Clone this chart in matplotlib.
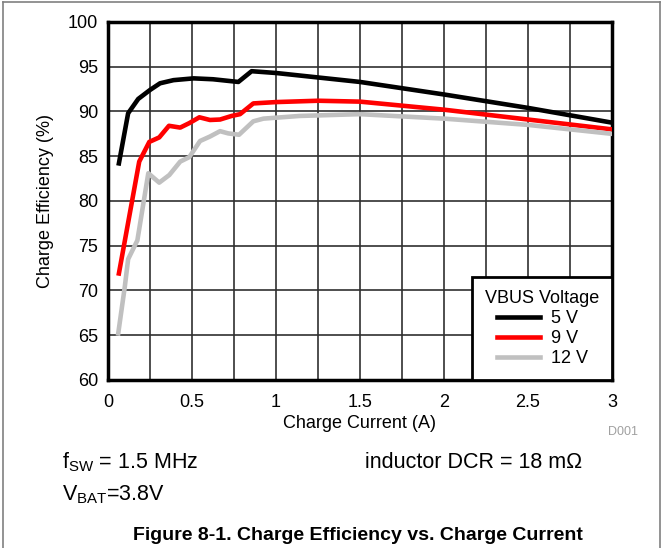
"""Charge efficiency vs. charge current for three VBUS voltages."""

import matplotlib
matplotlib.use("Agg")
import matplotlib.pyplot as plt
from matplotlib.lines import Line2D

plt.rcParams["font.family"] = ["Liberation Sans", "DejaVu Sans"]
plt.rcParams["mathtext.fontset"] = "custom"
plt.rcParams["mathtext.rm"] = "Liberation Sans"

# Corriente de carga (A) y eficiencia (%) por tensión VBUS
current_5v = [0.065, 0.12, 0.18, 0.25, 0.31, 0.39, 0.51, 0.625, 0.776, 0.855,
              1.0, 1.5, 2.0, 2.5, 3.0]
eff_5v = [84.2, 89.8, 91.4, 92.4, 93.15, 93.5, 93.7, 93.6, 93.3, 94.5,
          94.3, 93.3, 91.9, 90.4, 88.75]

current_9v = [0.065, 0.186, 0.246, 0.305, 0.363, 0.43, 0.484, 0.544, 0.607,
              0.667, 0.736, 0.786, 0.865, 1.0, 1.25, 1.5, 2.0, 2.5, 3.0]
eff_9v = [71.9, 84.4, 86.6, 87.1, 88.4, 88.2, 88.7, 89.35, 89.05,
          89.1, 89.5, 89.7, 90.9, 91.05, 91.2, 91.1, 90.2, 89.1, 88.0]

current_12v = [0.061, 0.10, 0.12, 0.175, 0.24, 0.305, 0.365, 0.43, 0.484,
               0.548, 0.607, 0.667, 0.716, 0.78, 0.865, 0.925, 1.14, 1.5,
               2.0, 2.5, 3.0]
eff_12v = [65.2, 70.4, 73.5, 75.6, 83.1, 82.05, 82.9, 84.4, 84.9,
           86.7, 87.2, 87.8, 87.55, 87.4, 88.9, 89.2, 89.5, 89.7,
           89.2, 88.5, 87.5]

series = [("5 V", current_5v, eff_5v, "black"),
          ("9 V", current_9v, eff_9v, "#ff0000"),
          ("12 V", current_12v, eff_12v, "#c0c0c0")]

x_ticks = [0, 0.5, 1, 1.5, 2, 2.5, 3]
x_tick_labels = ["0", "0.5", "1", "1.5", "2", "2.5", "3"]
y_ticks = [60, 65, 70, 75, 80, 85, 90, 95, 100]

fig = plt.figure(figsize=(6.62, 5.48), dpi=100)
ax = fig.add_axes([0.1631, 0.3066, 0.7614, 0.6533])

# rejilla: verticales cada 0.25 A, horizontales cada 5 %
for xv in [i * 0.25 for i in range(1, 12)]:
    ax.axvline(xv, color="#303030", lw=1.2, zorder=1)
for yv in y_ticks[1:-1]:
    ax.axhline(yv, color="#303030", lw=1.2, zorder=1)

handles = []
for label, xs, ys, color in series:
    ax.plot(xs, ys, color=color, lw=3.3, solid_joinstyle="round", zorder=3)
    handles.append(Line2D([], [], color=color, lw=3.3, label=label))

ax.set_xlim(0, 3)
ax.set_ylim(60, 100)
ax.set_xticks(x_ticks, x_tick_labels)
ax.set_yticks(y_ticks)
ax.tick_params(axis="x", length=0, labelsize=13, pad=10)
ax.tick_params(axis="y", length=0, labelsize=13, pad=7)
for sp in ax.spines.values():
    sp.set_linewidth(2.5)
ax.set_xlabel("Charge Current (A)", fontsize=13, labelpad=3)
ax.set_ylabel("Charge Efficiency (%)", fontsize=13, labelpad=10)

leg = ax.legend(handles=handles, title="VBUS Voltage", loc="lower right",
                borderaxespad=0, fancybox=False, fontsize=13,
                title_fontsize=13, handlelength=2.4, handletextpad=0.6,
                labelspacing=0.18, borderpad=0.7, framealpha=1)
leg.get_frame().set_edgecolor("black")
leg.get_frame().set_linewidth(2)
leg.set_zorder(5)

fig.text(638 / 662, 1 - 432 / 548, "D001", color="#a0a0a0", fontsize=9,
         ha="right", va="center")

fig.text(62 / 662, 1 - 468 / 548, r"f$_\mathregular{SW}$ = 1.5 MHz",
         fontsize=15.5, va="baseline")
fig.text(365 / 662, 1 - 468 / 548, "inductor DCR = 18 mΩ",
         fontsize=15.5, va="baseline")
fig.text(62 / 662, 1 - 500 / 548, r"V$_\mathregular{BAT}$=3.8V",
         fontsize=15.5, va="baseline")
fig.text(358 / 662, 1 - 540 / 548,
         "Figure 8-1. Charge Efficiency vs. Charge Current",
         fontsize=14, fontweight="bold", ha="center", va="baseline")

# marco exterior de la figura
for xs, ys in [([0.004, 0.004], [0, 0.997]), ([0.004, 0.997], [0.997, 0.997]),
               ([0.997, 0.997], [0, 0.997])]:
    fig.add_artist(Line2D(xs, ys, color="#808080", lw=1.2,
                          transform=fig.transFigure))

fig.savefig("out.png", dpi=100)
